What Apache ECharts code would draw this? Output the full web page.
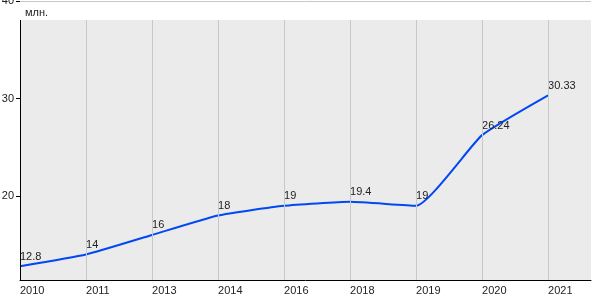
<!DOCTYPE html>
<html><head><meta charset="utf-8">
<script src="https://cdn.jsdelivr.net/npm/echarts@6/dist/echarts.min.js"></script>
<style>html,body{margin:0;padding:0;background:#fff}#c{width:600px;height:300px}</style>
</head><body><div id="c"></div>
<script>
const years = ['2010','2011','2013','2014','2016','2018','2019','2020','2021'];
const values = [12.8, 14, 16, 18, 19, 19.4, 19, 26.24, 30.33];
const yTicks = [20, 30, 40];
const unitLabel = 'млн.';

const Y_MIN = 11.38, Y_MAX = 40, Y_PLOT_TOP = 38.05, X_MAX = 8.65;
const font = 'Liberation Sans, Arial, sans-serif';
const pts = values.map((v, i) => [i, v]);

const chart = echarts.init(document.getElementById('c'));
chart.setOption({
  animation: false,
  title: { text: unitLabel, left: 20, top: 2, textStyle: { fontSize: 11, fontWeight: 'normal', color: '#222', fontFamily: font } },
  grid: { left: 20, right: 9, top: 1, bottom: 20, containLabel: false, outerBoundsMode: 'none' },
  xAxis: {
    type: 'value', min: 0, max: X_MAX, interval: 1, z: 1,
    axisLine: { show: true, lineStyle: { color: '#000', width: 1 } },
    axisTick: { show: false },
    splitLine: { show: false },
    axisLabel: {
      show: true, margin: 5, align: 'left', color: '#222', fontSize: 11, fontFamily: font,
      showMaxLabel: false,
      formatter: v => (Number.isInteger(v) && years[v] !== undefined) ? years[v] : ''
    }
  },
  yAxis: {
    type: 'value', min: Y_MIN, max: Y_MAX, z: 1,
    axisLine: { show: false },
    axisTick: { show: true, length: 4, customValues: yTicks, lineStyle: { color: '#000' } },
    axisLabel: { customValues: yTicks, margin: 6, color: '#222', fontSize: 11, fontFamily: font },
    splitLine: { show: true, lineStyle: { color: '#c8c8c8', width: 1 } }
  },
  series: [
    {
      type: 'line', data: [], z: 0, silent: true,
      markArea: {
        silent: true,
        itemStyle: { color: '#ebebeb' },
        data: [[{ coord: [0, Y_MIN] }, { coord: [X_MAX, Y_PLOT_TOP] }]]
      }
    },
    {
      type: 'line', data: [], z: 1, silent: true,
      markLine: {
        silent: true, symbol: ['none', 'none'], label: { show: false },
        lineStyle: { color: '#c8c8c8', width: 1, type: 'solid' },
        data: years.slice(1).map((_, k) => [{ coord: [k + 1, Y_MIN] }, { coord: [k + 1, Y_PLOT_TOP] }])
          .concat([[{ coord: [0, Y_MIN], lineStyle: { color: '#000' } }, { coord: [0, Y_PLOT_TOP] }]])
      }
    },
    {
      type: 'line', data: pts, z: 3,
      smooth: 0.15,
      symbol: 'circle', symbolSize: 0, showSymbol: true,
      lineStyle: { color: '#0047f5', width: 2 },
      itemStyle: { color: '#0047f5' },
      label: {
        show: true, position: 'top', align: 'left', distance: 4,
        color: '#222', fontSize: 11, fontFamily: font,
        formatter: p => String(values[p.dataIndex])
      }
    }
  ]
});
</script></body></html>
